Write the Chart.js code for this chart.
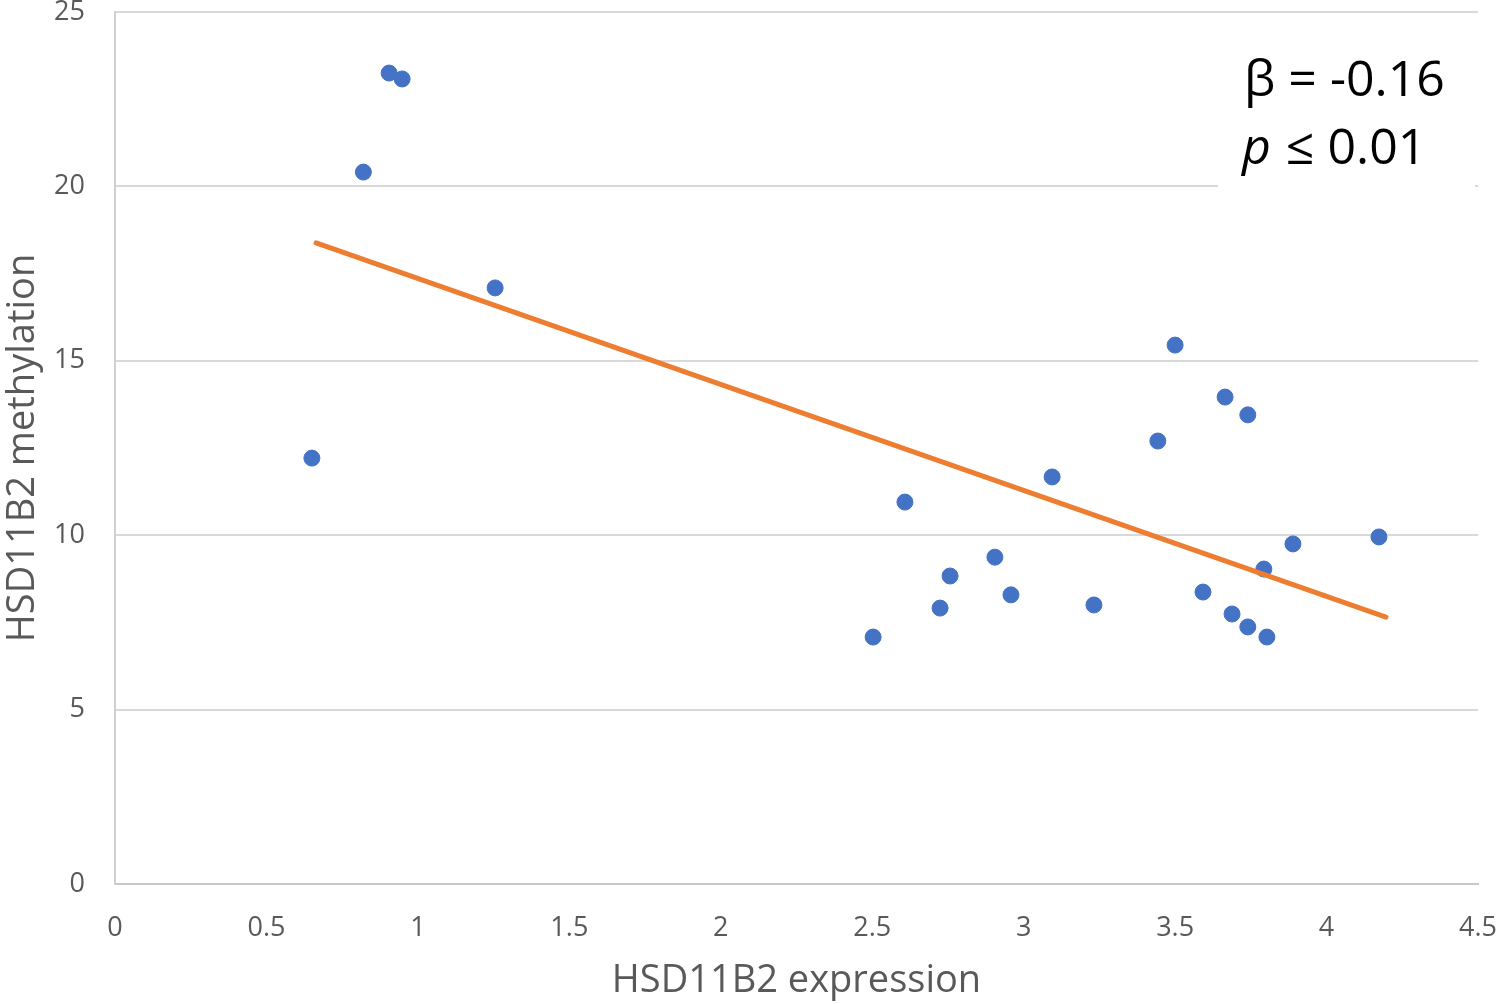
<!DOCTYPE html>
<html>
<head>
<meta charset="utf-8">
<script src="https://cdn.jsdelivr.net/npm/chart.js@4.4.1/dist/chart.umd.min.js"></script>
<style>
  html, body { margin: 0; padding: 0; background: #ffffff; }
  #wrap { width: 1500px; height: 1004px; }
</style>
</head>
<body>
<div id="wrap"><canvas id="c" width="1500" height="1004"></canvas></div>
<script>
// Data
const expression = [0.65, 0.82, 0.905, 0.948, 1.255, 2.503, 2.608, 2.724, 2.757, 2.905, 2.958, 3.094, 3.232, 3.443, 3.500, 3.592, 3.665, 3.688, 3.740, 3.740, 3.793, 3.803, 3.889, 4.173];
const methylation = [12.21, 20.41, 23.25, 23.08, 17.09, 7.08, 10.95, 7.91, 8.83, 9.37, 8.29, 11.67, 8.0, 12.70, 15.45, 8.37, 13.96, 7.74, 13.45, 7.37, 9.03, 7.08, 9.75, 9.95];
const trendX = [0.664, 4.196];
const trendY = [18.38, 7.65];
const xTicks = [0, 0.5, 1, 1.5, 2, 2.5, 3, 3.5, 4, 4.5];
const xTickLabels = ["0", "0.5", "1", "1.5", "2", "2.5", "3", "3.5", "4", "4.5"];
const yTicks = [0, 5, 10, 15, 20, 25];
const annotationLines = ["β = -0.16", "≤ 0.01"];

const FONT = "'Open Sans', 'DejaVu Sans', sans-serif";

const annotationPlugin = {
  id: 'annot',
  afterDraw(chart) {
    const ctx = chart.ctx;
    ctx.save();
    ctx.fillStyle = '#ffffff';
    ctx.fillRect(1218, 40, 257, 150);
    ctx.fillStyle = '#000000';
    ctx.textBaseline = 'alphabetic';
    ctx.textAlign = 'left';
    ctx.font = "50px " + FONT;
    ctx.fillText(annotationLines[0], 1244, 96);
    ctx.font = "italic 50px " + FONT;
    ctx.fillText("p", 1242, 164);
    const pw = ctx.measureText("p ").width;
    ctx.font = "50px " + FONT;
    ctx.fillText(annotationLines[1], 1242 + pw + 2, 164);
    ctx.restore();
  }
};

function zeroPad(scale) {
  scale.paddingTop = 0; scale.paddingBottom = 0;
  scale.paddingLeft = 0; scale.paddingRight = 0;
}

new Chart(document.getElementById('c'), {
  data: {
    datasets: [
      {
        type: 'scatter',
        data: expression.map((x, i) => ({ x: x, y: methylation[i] })),
        backgroundColor: '#4472C4',
        borderColor: '#4472C4',
        pointRadius: 8,
        pointHoverRadius: 8,
        order: 1
      },
      {
        type: 'line',
        data: trendX.map((x, i) => ({ x: x, y: trendY[i] })),
        borderColor: '#ED7D31',
        borderWidth: 5,
        pointRadius: 0,
        fill: false,
        borderCapStyle: 'round',
        order: 0
      }
    ]
  },
  options: {
    responsive: false,
    devicePixelRatio: 1,
    animation: false,
    layout: { padding: { top: 12, right: 22, left: 0, bottom: 0 } },
    plugins: { legend: { display: false }, tooltip: { enabled: false } },
    scales: {
      x: {
        type: 'linear',
        min: 0, max: 4.5,
        afterBuildTicks(scale) { scale.ticks = xTicks.map(v => ({ value: v })); },
        afterFit(scale) { scale.height = 120; zeroPad(scale); },
        grid: { display: false, drawTicks: false },
        border: { display: true, color: '#c8c8c8', width: 2 },
        ticks: {
          color: '#595959', font: { family: FONT, size: 27 }, padding: 28, maxRotation: 0,
          callback: (v) => { const i = xTicks.indexOf(v); return i >= 0 ? xTickLabels[i] : String(v); }
        },
        title: { display: true, text: 'HSD11B2 expression', color: '#595959', font: { family: FONT, size: 38 }, padding: { top: 0, bottom: 0 } }
      },
      y: {
        type: 'linear',
        min: 0, max: 25,
        afterBuildTicks(scale) { scale.ticks = yTicks.map(v => ({ value: v })); },
        afterFit(scale) { scale.width = 115; zeroPad(scale); },
        grid: { color: '#d9d9d9', lineWidth: 2, drawTicks: false },
        border: { display: true, color: '#d0d0d0', width: 2 },
        ticks: { color: '#595959', font: { family: FONT, size: 27 }, padding: 30 },
        title: { display: true, text: 'HSD11B2 methylation', color: '#595959', font: { family: FONT, size: 38 }, padding: { top: 0, bottom: 4 } }
      }
    }
  },
  plugins: [annotationPlugin]
});
</script>
</body>
</html>
